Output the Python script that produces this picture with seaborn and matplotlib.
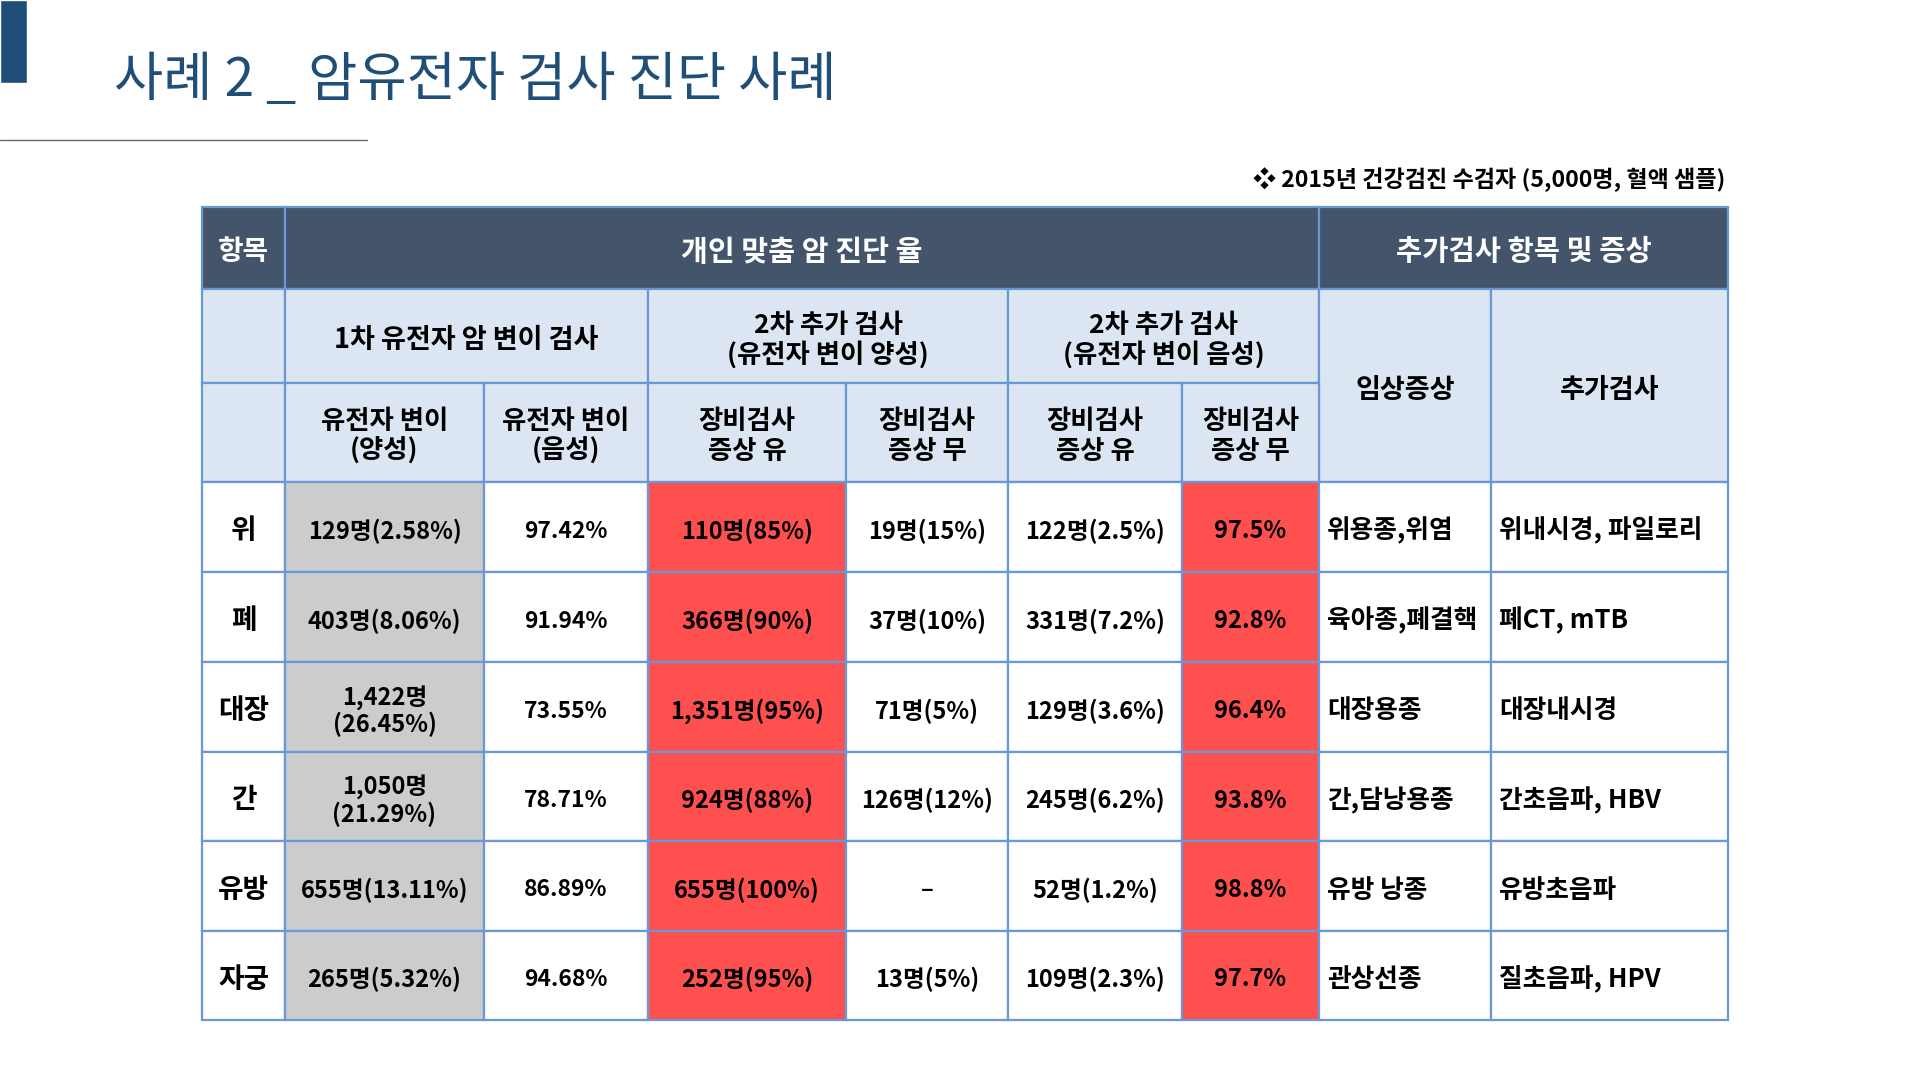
import matplotlib
matplotlib.use("Agg")
import matplotlib.pyplot as plt
import seaborn as sns

sns.set_theme(style="white")
plt.rcParams["font.family"] = ["Noto Sans CJK KR", "DejaVu Sans"]

# ---------- DATA ----------
title = "사례 2 _ 암유전자 검사 진단 사례"
note = "❖ 2015년 건강검진 수검자 (5,000명, 혈액 샘플)"

organs = ["위", "폐", "대장", "간", "유방", "자궁"]
gene_pos = ["129명(2.58%)", "403명(8.06%)", "1,422명\n(26.45%)", "1,050명\n(21.29%)",
            "655명(13.11%)", "265명(5.32%)"]
gene_neg = ["97.42%", "91.94%", "73.55%", "78.71%", "86.89%", "94.68%"]
pos_sym_yes = ["110명(85%)", "366명(90%)", "1,351명(95%)", "924명(88%)", "655명(100%)", "252명(95%)"]
pos_sym_no = ["19명(15%)", "37명(10%)", "71명(5%)", "126명(12%)", "–", "13명(5%)"]
neg_sym_yes = ["122명(2.5%)", "331명(7.2%)", "129명(3.6%)", "245명(6.2%)", "52명(1.2%)", "109명(2.3%)"]
neg_sym_no = ["97.5%", "92.8%", "96.4%", "93.8%", "98.8%", "97.7%"]
symptoms = ["위용종,위염", "육아종,폐결핵", "대장용종", "간,담낭용종", "유방 낭종", "관상선종"]
extra_tests = ["위내시경, 파일로리", "폐CT, mTB", "대장내시경", "간초음파, HBV", "유방초음파", "질초음파, HPV"]

top_headers = ["항목", "개인 맞춤 암 진단 율", "추가검사 항목 및 증상"]
group_headers = ["1차 유전자 암 변이 검사", "2차 추가 검사\n(유전자 변이 양성)",
                 "2차 추가 검사\n(유전자 변이 음성)", "임상증상", "추가검사"]
sub_headers = ["유전자 변이\n(양성)", "유전자 변이\n(음성)", "장비검사\n증상 유",
               "장비검사\n증상 무", "장비검사\n증상 유", "장비검사\n증상 무"]

# ---------- STYLE / LAYOUT ----------
TITLE_C = "#1F4E79"
DARK = "#44546A"
LIGHT = "#DCE6F2"
GRAY = "#CCCCCC"
RED = "#FF5050"
WHITE = "#FFFFFF"
BORDER = "#6A97D6"

col_edges = [202, 285, 484, 648, 846, 1008, 1182, 1319, 1491, 1728]
row_edges = [207, 289, 383, 482, 572, 662, 752, 841, 931, 1020]

fig = plt.figure(figsize=(19.2, 10.8), dpi=100)
ax = fig.add_axes([0, 0, 1, 1])
ax.set_xlim(0, 1920)
ax.set_ylim(1080, 0)
ax.axis("off")


def cell(c0, c1, r0, r1, color, text="", tcolor="black", ha="center", fs=17):
    x0, x1 = col_edges[c0], col_edges[c1]
    y0, y1 = row_edges[r0], row_edges[r1]
    ax.bar(x0, y1 - y0, width=x1 - x0, bottom=y0, align="edge",
           color=color, edgecolor=BORDER, linewidth=1.6, zorder=1)
    if text:
        tx = (x0 + x1) / 2 if ha == "center" else x0 + 8
        # small downward nudge: CJK glyph boxes sit a bit high
        ax.text(tx, (y0 + y1) / 2 + 4, text, ha=ha, va="center", fontsize=fs,
                color=tcolor, weight="bold", linespacing=1.1, zorder=3)


# title area
ax.bar(0, 83, width=27, bottom=0, align="edge", color=TITLE_C, zorder=1)
ax.text(114, 81, title, fontsize=38.5, color=TITLE_C, va="center", ha="left", weight="medium")
ax.plot([0, 367], [140, 140], color="#5A6B7D", lw=1)
ax.text(1725, 180, note, fontsize=16.6, ha="right", va="center", weight="bold", color="black")

# header rows
cell(0, 1, 0, 1, DARK, top_headers[0], WHITE, fs=20)
cell(1, 7, 0, 1, DARK, top_headers[1], WHITE, fs=21)
cell(7, 9, 0, 1, DARK, top_headers[2], WHITE, fs=20.5)

cell(0, 1, 1, 2, LIGHT)
cell(0, 1, 2, 3, LIGHT)
cell(1, 3, 1, 2, LIGHT, group_headers[0], fs=19.5)
cell(3, 5, 1, 2, LIGHT, group_headers[1], fs=19)
cell(5, 7, 1, 2, LIGHT, group_headers[2], fs=19)
cell(7, 8, 1, 3, LIGHT, group_headers[3], fs=19.5)
cell(8, 9, 1, 3, LIGHT, group_headers[4], fs=19.5)
for i, lab in enumerate(sub_headers):
    cell(1 + i, 2 + i, 2, 3, LIGHT, lab, fs=19)

# body
columns = [organs, gene_pos, gene_neg, pos_sym_yes, pos_sym_no,
           neg_sym_yes, neg_sym_no, symptoms, extra_tests]
fills = [WHITE, GRAY, WHITE, RED, WHITE, WHITE, RED, WHITE, WHITE]
aligns = ["center"] * 7 + ["left", "left"]
sizes = [20, 17, 16.5, 17, 17, 17, 17, 18.5, 18.5]
for c, (vals, fc, ha, fs) in enumerate(zip(columns, fills, aligns, sizes)):
    for r, v in enumerate(vals):
        cell(c, c + 1, 3 + r, 4 + r, fc, v, "black", ha, fs)

fig.savefig("out.png", dpi=100, facecolor="white")
